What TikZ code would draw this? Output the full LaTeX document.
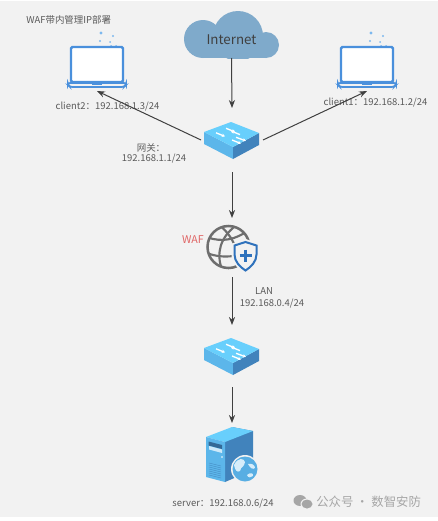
\documentclass[tikz,border=0pt]{standalone}
\usepackage{fontspec}
\setmainfont{Noto Sans CJK SC}
\usepackage{xcolor}
\usetikzlibrary{arrows.meta, positioning}
\definecolor{wfPage}{HTML}{F2F2F2}
\definecolor{wfText}{HTML}{5A5A5A}
\definecolor{wfLine}{HTML}{404040}
\definecolor{wfCloud}{HTML}{7FAACB}
\definecolor{wfLaptop}{HTML}{4A90DC}
\definecolor{wfDot}{HTML}{7DB8EE}
\definecolor{wfTop}{HTML}{68CFFC}
\definecolor{wfSide}{HTML}{5CB6EA}
\definecolor{wfDark}{HTML}{4183BC}
\definecolor{wfGlobe}{HTML}{6E6E6E}
\definecolor{wfShield}{HTML}{2F72BC}
\definecolor{wfRed}{HTML}{E06464}
\definecolor{wfMark}{HTML}{A6A6A6}
\tikzset{
  iconbox/.style={inner sep=0pt, outer sep=0pt, minimum width=#1},
  lbl/.style={font=\fontsize{7.1}{8.6}\selectfont, text=wfText, inner sep=0pt, align=center},
  link/.style={draw=wfLine, line width=0.75pt, -{Stealth[length=6pt,width=4.6pt]}},
  pics/laptopicon/.style={code={
    \fill[wfDot] (4,-29) circle (1.6) (16,-26) circle (1.2) (3,-21) circle (1.2) (13,-20) circle (1);
    \fill[wfDot] (14,-16) circle (1) (19,-16) circle (1);
    \draw[draw=wfLaptop, fill=white, line width=1.8pt, rounded corners=1pt] (-26,-15) rectangle (26,20);
    \draw[draw=wfLaptop, fill=wfPage, line width=1.2pt, rounded corners=1.5pt] (-29,21) -- (29,21) -- (29,23) -- (27,25) -- (-27,25) -- (-29,23) -- cycle;
    \fill[wfLaptop] (-5,20) rectangle (5,23);
  }},
  pics/switchicon/.style={code={
    \fill[wfSide] (-28,-8) -- (1,7) -- (1,19) -- (-28,4) -- cycle;
    \fill[wfDark] (1,7) -- (27,-7) -- (27,5) -- (1,19) -- cycle;
    \fill[wfTop] (-1,-18) -- (27,-7) -- (1,7) -- (-28,-8) -- cycle;
    \foreach \ax/\ay/\bx/\by in {-6/-13/3/-9, 8/-6/-1/-10, -16/-8/-7/-4, 0/0/9/4, 4/-3/14/1}
      \draw[white, line width=1pt, -{Stealth[length=2.4pt,width=2.6pt]}] (\ax,\ay*0.9) -- (\bx,\by*0.9);
  }},
  pics/cloudicon/.style={code={
    \begin{scope}
      \clip (-60,-30) rectangle (60,23.5);
      \fill[wfCloud] (-28.5,4.5) circle (19) (6.5,1.5) circle (25) (34.5,10.5) circle (13);
    \end{scope}
    \fill[wfCloud] (-28.5,5) rectangle (34.5,23.5);
  }},
  pics/wafglobe/.style={code={
    \draw[wfGlobe, line width=1.9pt] (-3.5,-0.5) circle (21);
    \begin{scope}
      \clip (-3.5,-0.5) circle (21);
      \draw[wfGlobe, line width=1.6pt] (-12,-22) .. controls (4,-8) and (8,8) .. (3,22);
      \draw[wfGlobe, line width=1.6pt] (4,-22) .. controls (-12,-10) and (-16,6) .. (-10,22);
      \draw[wfGlobe, line width=1.6pt] (-24,-10) .. controls (-10,-5) and (4,-8) .. (16,-17);
      \draw[wfGlobe, line width=1.6pt] (-24,6) .. controls (-10,11) and (6,10) .. (20,2);
    \end{scope}
    \draw[draw=wfPage, fill=wfPage, line width=1.5pt] (13.5,-7.5) -- (26.5,-3) -- (26.5,7) .. controls (26.5,15) and (20,21) .. (13.5,25) .. controls (7,21) and (0.5,15) .. (0.5,7) -- (0.5,-3) -- cycle;
    \draw[draw=wfShield, fill=wfPage, line width=1.5pt] (13.5,-5.5) -- (24.5,-2) -- (24.5,7) .. controls (24.5,14) and (19,19.5) .. (13.5,23) .. controls (8,19.5) and (2.5,14) .. (2.5,7) -- (2.5,-2) -- cycle;
    \draw[wfShield, line width=1.8pt] (7.5,8) -- (19.5,8) (13.5,2) -- (13.5,14);
  }},
  pics/servericon/.style={code={
    \fill[wfDark] (-7,-12) -- (0,-27) -- (21,-23) -- (21,16) -- (-7,28) -- cycle;
    \fill[wfTop] (-26,-17) -- (0,-27) -- (21,-23) -- (-7,-12) -- cycle;
    \fill[wfSide] (-26,-17) -- (-7,-12) -- (-7,28) -- (-26,23) -- cycle;
    \fill[wfDark!80!black] (-23.5,-12.5) -- (-10,-9) -- (-10,-5) -- (-23.5,-8.5) -- cycle;
    \fill[white!70!wfSide] (-23,-8) -- (-10,-4.5) -- (-10,-1) -- (-23,-4.5) -- cycle;
    \fill[white] (-10,3) circle (0.8);
    \foreach \k in {0,...,6}
      \draw[wfDark, line width=0.25pt] (-23,{9+\k*2}) -- (-11,{12+\k*2});
    \fill[wfPage] (13,15) circle (14);
    \fill[wfSide!85!wfDark] (13,15) circle (12.5);
    \fill[white!75!wfSide] (2,11) .. controls (6,3) and (12,4) .. (13,8) .. controls (12,14) and (9,12) .. (8,17) .. controls (5,19) and (3,16) .. (2,11) -- cycle;
    \fill[white!75!wfSide] (16,10) .. controls (20,9) and (23,11) .. (23,14) .. controls (21,16) and (18,14) .. (16,10) -- cycle;
    \fill[white!75!wfSide] (15,21) .. controls (18,18) and (22,19) .. (21,22) .. controls (19,24) and (16,24) .. (15,21) -- cycle;
  }},
}

\begin{document}
\begin{tikzpicture}[x=0.75pt, y=-0.75pt]
\useasboundingbox (0,0) rectangle (438,521);
\fill[wfPage] (0,1) rectangle (438,517);

% icons
\node[iconbox=71.25pt, minimum height=35.25pt] (cloud) at (231.5,34.5) {};
\node[iconbox=46.5pt, minimum height=43.5pt] (client2) at (97,62) {};
\node[iconbox=46.5pt, minimum height=43.5pt] (client1) at (367,62) {};
\node[iconbox=46.5pt, minimum height=48pt] (sw1) at (232,140) {};
\node[iconbox=46.5pt, minimum height=44.25pt] (waf) at (232,247.5) {};
\node[iconbox=46.5pt, minimum height=46.5pt] (sw2) at (232,356) {};
\node[iconbox=46.5pt, minimum height=46.5pt] (server) at (232,454) {};

\pic at (cloud) {cloudicon};
\pic at (client2) {laptopicon};
\pic at (client1) {laptopicon};
\pic at (sw1) {switchicon};
\pic at (waf) {wafglobe};
\pic at (sw2) {switchicon};
\pic at (server) {servericon};

% labels
\node[lbl, text=wfLine, font=\fontsize{10}{12}\selectfont] (inet) at (231.5,39.5) {Internet};
\node[lbl, anchor=west] (title) at (26,20) {WAF带内管理IP部署};
\node[lbl] (c2ip) at (107.5,107) {client2：192.168.1.3/24};
\node[lbl] (c1ip) at (375.5,103) {client1：192.168.1.2/24};
\node[lbl] (gwname) at (151,148) {网关：};
\node[lbl] (gwip) at (154,159) {192.168.1.1/24};
\node[lbl, text=wfRed, font=\fontsize{8}{10}\selectfont] (wafname) at (193,240) {WAF};
\node[lbl] (lanname) at (264,291) {LAN};
\node[lbl] (lanip) at (272,304) {192.168.0.4/24};
\node[lbl] (srvip) at (223,504) {server：192.168.0.6/24};

% watermark
\fill[wfMark] (300,500.5) ellipse (6.5 and 5.5);
\fill[wfPage] (307,504) ellipse (6.5 and 5.5);
\fill[wfMark] (307,504) ellipse (5.5 and 4.5);
\node[lbl, text=wfMark, font=\fontsize{9.3}{11}\selectfont, anchor=west] (mark) at (316,502) {公众号 · 数智安防};

% links
\draw[link] (cloud.south) -- (sw1.north);
\draw[link] (sw1.west) -- (client2.south);
\draw[link] (sw1.east) -- (client1.south);
\draw[link] (sw1.south) -- (waf.north);
\draw[link] (waf.south) -- (sw2.north);
\draw[link] (sw2.south) -- (server.north);
\end{tikzpicture}
\end{document}
